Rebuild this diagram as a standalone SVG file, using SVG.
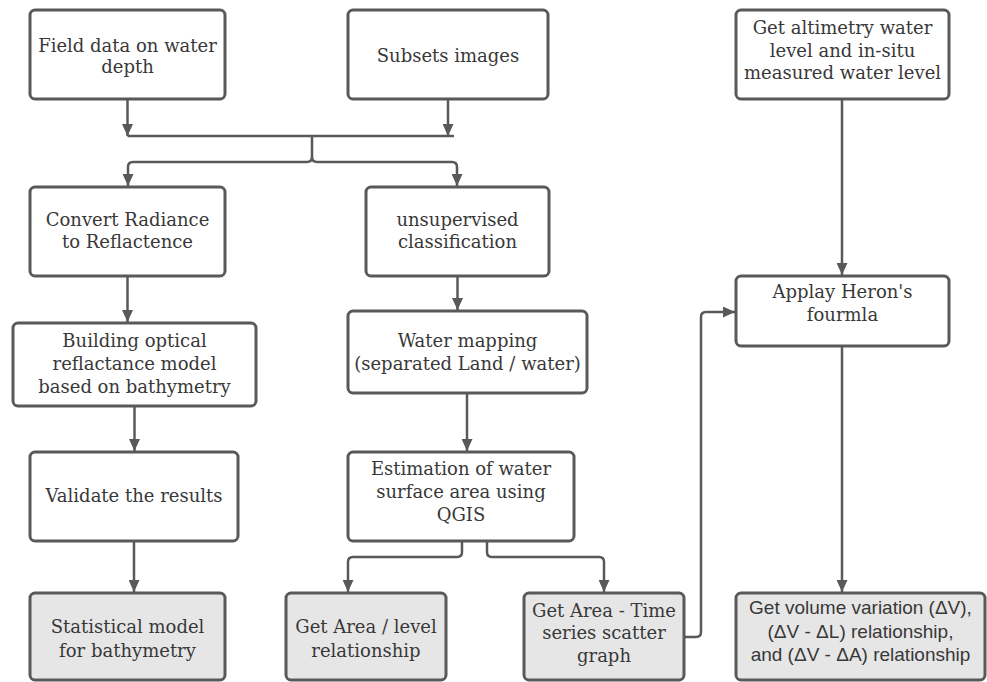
<svg xmlns="http://www.w3.org/2000/svg" width="987" height="682" viewBox="0 0 987 682">
<defs>
<marker id="ah" markerUnits="userSpaceOnUse" markerWidth="12" markerHeight="11" refX="12" refY="5.5" orient="auto">
<path d="M0,0 L12,5.5 L0,11 z" fill="#595959"/>
</marker>
<style>
.box{fill:#ffffff;stroke:#595959;stroke-width:3}
.box.g{fill:#e6e6e6}
.t{font-family:"DejaVu Serif","Liberation Serif",serif;font-size:18px;fill:#383838;text-anchor:middle}
.s{font-family:"Liberation Sans",Arial,sans-serif;font-size:19px;fill:#383838;text-anchor:middle}
.c{fill:none;stroke:#595959;stroke-width:2.5}
.a{marker-end:url(#ah)}
</style>
</defs>
<rect width="987" height="682" fill="#ffffff"/>
<g id="connectors">
<path class="c a" d="M127.5,99 V136"/>
<path class="c a" d="M448,99 V136"/>
<path class="c" d="M127.5,136 H454"/>
<path class="c a" d="M312,136 V157 Q312,162 307,162 H133 Q128,162 128,167 V186"/>
<path class="c a" d="M312,157 Q312,162 317,162 H452 Q457,162 457,167 V186"/>
<path class="c a" d="M127.5,276 V322"/>
<path class="c a" d="M457.5,276 V310"/>
<path class="c a" d="M134.5,406 V451"/>
<path class="c a" d="M467,393 V451"/>
<path class="c a" d="M134,541 V592"/>
<path class="c a" d="M462,541 V552 Q462,557 457,557 H353 Q348,557 348,562 V592"/>
<path class="c a" d="M487,541 V552 Q487,557 492,557 H599 Q604,557 604,562 V592"/>
<path class="c a" d="M684,637 H696 Q701,637 701,632 V317 Q701,312 706,312 H735"/>
<path class="c a" d="M842,99 V275"/>
<path class="c a" d="M842,346 V592"/>
</g>
<g id="field">
<rect class="box" x="30" y="10" width="195" height="89" rx="5"/>
<text class="t" x="127.5" y="52">Field data on water</text>
<text class="t" x="127.5" y="73">depth</text>
</g>
<g id="subsets">
<rect class="box" x="348" y="10" width="200" height="89" rx="5"/>
<text class="t" x="448" y="62">Subsets images</text>
</g>
<g id="altimetry">
<rect class="box" x="736" y="10" width="213" height="89" rx="5"/>
<text class="t" x="842.5" y="34">Get altimetry water</text>
<text class="t" x="842.5" y="56.5">level and in-situ</text>
<text class="t" x="842.5" y="79">measured water level</text>
</g>
<g id="convert">
<rect class="box" x="30" y="187" width="195" height="89" rx="5"/>
<text class="t" x="127.5" y="225.5">Convert Radiance</text>
<text class="t" x="127.5" y="248">to Reflactence</text>
</g>
<g id="unsupervised">
<rect class="box" x="366" y="187" width="183" height="89" rx="5"/>
<text class="t" x="457.5" y="225.5">unsupervised</text>
<text class="t" x="457.5" y="248">classification</text>
</g>
<g id="heron">
<rect class="box" x="736" y="276" width="213" height="70" rx="5"/>
<text class="t" x="842.5" y="298">Applay Heron's</text>
<text class="t" x="842.5" y="320.5">fourmla</text>
</g>
<g id="building">
<rect class="box" x="13" y="323" width="243" height="83" rx="5"/>
<text class="t" x="134.5" y="346.5">Building optical</text>
<text class="t" x="134.5" y="370">reflactance model</text>
<text class="t" x="134.5" y="393">based on bathymetry</text>
</g>
<g id="watermapping">
<rect class="box" x="348" y="311" width="239" height="82" rx="5"/>
<text class="t" x="467.5" y="346.5">Water mapping</text>
<text class="t" x="467.5" y="370">(separated Land / water)</text>
</g>
<g id="validate">
<rect class="box" x="30" y="452" width="208" height="89" rx="5"/>
<text class="t" x="134" y="502">Validate the results</text>
</g>
<g id="estimation">
<rect class="box" x="348" y="452" width="226" height="89" rx="5"/>
<text class="t" x="461" y="475">Estimation of water</text>
<text class="t" x="461" y="498">surface area using</text>
<text class="t" x="461" y="520.5">QGIS</text>
</g>
<g id="statistical">
<rect class="box g" x="30" y="593" width="195" height="87" rx="5"/>
<text class="t" x="127.5" y="633">Statistical model</text>
<text class="t" x="127.5" y="656.5">for bathymetry</text>
</g>
<g id="arealevel">
<rect class="box g" x="286" y="593" width="160" height="87" rx="5"/>
<text class="t" x="366" y="633">Get Area / level</text>
<text class="t" x="366" y="656.5">relationship</text>
</g>
<g id="areatime">
<rect class="box g" x="524" y="593" width="160" height="87" rx="5"/>
<text class="t" x="604" y="616.5">Get Area - Time</text>
<text class="t" x="604" y="639">series scatter</text>
<text class="t" x="604" y="661.5">graph</text>
</g>
<g id="volume">
<rect class="box g" x="736" y="593" width="249" height="87" rx="5"/>
<text class="s" x="860.5" y="614">Get volume variation (ΔV),</text>
<text class="s" x="860.5" y="638">(ΔV - ΔL) relationship,</text>
<text class="s" x="860.5" y="661">and (ΔV - ΔA) relationship</text>
</g>
</svg>
